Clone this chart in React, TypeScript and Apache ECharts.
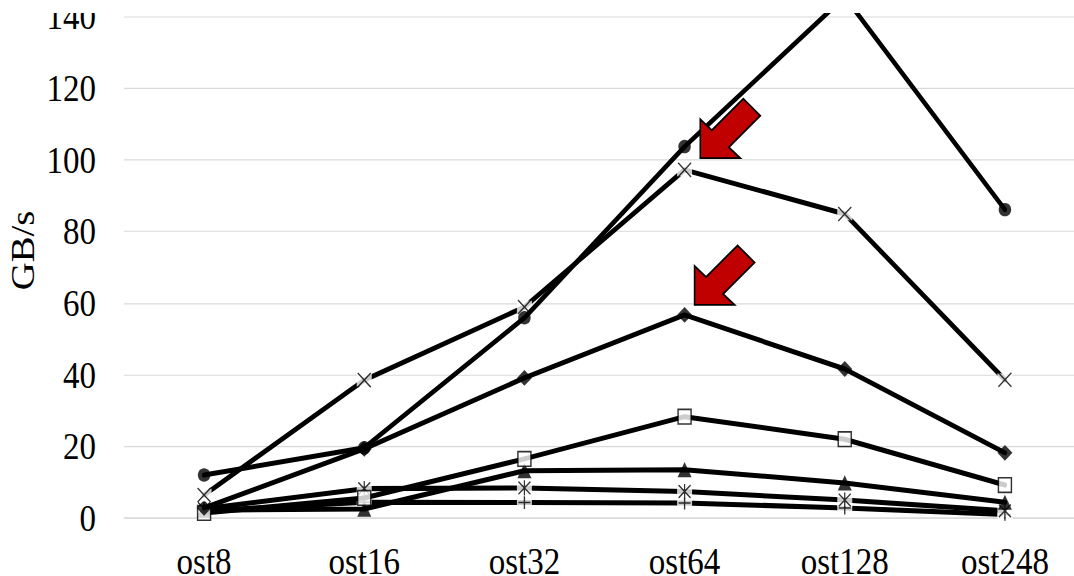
import { useEffect, useRef } from 'react';
import * as echarts from 'echarts';

// Stripe-count sweep: aggregate bandwidth per OST configuration
const categories = ['ost8', 'ost16', 'ost32', 'ost64', 'ost128', 'ost248'];

const plusValues = [2.0, 4.4, 4.3, 4.2, 2.8, 1.0];
const starValues = [2.6, 8.2, 8.4, 7.4, 5.0, 2.0];
const triangleValues = [2.2, 2.5, 13.2, 13.5, 9.8, 4.4];
const squareValues = [1.4, 5.6, 16.5, 28.3, 22.0, 9.2];
const diamondValues = [2.8, 19.3, 39.1, 56.7, 41.6, 18.2];
const crossValues = [6.4, 38.5, 58.9, 97.2, 84.9, 38.6];
const circleValues = [12.0, 19.6, 55.9, 103.7, 145.5, 86.1];

const yMin = 0;
const yMax = 141;
const yStep = 20;
const yTitle = 'GB/s';

// Highlighted points (category index, series values)
const highlightA = { index: 3, values: crossValues };
const highlightB = { index: 3, values: diamondValues };

const W = 1074;
const H = 492;
const S = 576 / H; // vertical stretch of the whole figure
const TOP_MARGIN = 13; // blank band above the figure, screen px

const FONT = '"Liberation Serif", "Times New Roman", serif';

const X_PATH = 'path://M0,0L10,10M10,0L0,10';
const STAR_PATH = 'path://M0,1L10,11M10,1L0,11M5,0L5,12';
const PLUS_PATH = 'path://M0,5L10,5M5,0L5,10';

type Def = {
  values: number[];
  symbol: string;
  size: number | number[];
  glyph: boolean;
  fill: string;
};

const defs: Def[] = [
  { values: plusValues, symbol: PLUS_PATH, size: [12, 11], glyph: true, fill: '#000' },
  { values: starValues, symbol: STAR_PATH, size: [12, 13], glyph: true, fill: '#000' },
  { values: triangleValues, symbol: 'triangle', size: [14, 13], glyph: false, fill: '#000' },
  { values: squareValues, symbol: 'rect', size: [13, 12.5], glyph: false, fill: '#fff' },
  { values: diamondValues, symbol: 'diamond', size: [15, 13.5], glyph: false, fill: '#000' },
  { values: crossValues, symbol: X_PATH, size: [13, 12], glyph: true, fill: '#000' },
  { values: circleValues, symbol: 'circle', size: [12.5, 11.5], glyph: false, fill: '#000' },
];

// Block arrow outline relative to its tip (screen units, pointing down-left)
const arrowShape = [
  [0, 0], [0, -39], [11.5, -28], [43, -59.5], [60, -42.5], [28.5, -11], [40, 0],
];

function buildSeries() {
  const out: any[] = [];
  defs.forEach((d, i) => {
    const z = 2 + i * 3;
    out.push({
      type: 'line',
      data: d.values,
      symbol: 'none',
      silent: true,
      z,
      lineStyle: { color: '#000', width: 4.3, cap: 'round', join: 'round' },
    });
    if (d.glyph) {
      out.push({
        type: 'scatter',
        data: d.values,
        symbol: 'rect',
        symbolSize: [15, 11],
        silent: true,
        z: z + 1,
        itemStyle: { color: '#fff' },
      });
      out.push({
        type: 'scatter',
        data: d.values,
        symbol: d.symbol,
        symbolSize: d.size,
        silent: true,
        z: z + 2,
        itemStyle: { color: 'transparent', borderColor: '#000', borderWidth: 1.3 },
      });
    } else {
      out.push({
        type: 'scatter',
        data: d.values,
        symbol: d.symbol,
        symbolSize: d.size,
        silent: true,
        z: z + 2,
        itemStyle: {
          color: d.fill,
          borderColor: '#000',
          borderWidth: d.fill === '#fff' ? 1.4 : 0,
        },
      });
    }
  });
  return out;
}

export default function App() {
  const ref = useRef<HTMLDivElement>(null);

  useEffect(() => {
    if (!ref.current) return;
    const chart = echarts.init(ref.current, undefined, { renderer: 'svg' });
    chart.setOption({
      animation: false,
      backgroundColor: '#fff',
      grid: {
        left: 124,
        right: -11,
        top: TOP_MARGIN / S,
        bottom: H - 518 / S,
        containLabel: false,
        outerBoundsMode: 'none',
      },
      xAxis: {
        type: 'category',
        data: categories,
        boundaryGap: true,
        axisLine: { show: true, lineStyle: { color: '#d9d9d9', width: 1 } },
        axisTick: { show: false },
        axisLabel: {
          interval: 0,
          margin: 20,
          fontSize: 33,
          fontFamily: FONT,
          color: '#000',
        },
        splitLine: { show: false },
      },
      yAxis: {
        type: 'value',
        min: yMin,
        max: yMax,
        interval: yStep,
        axisLine: { show: false },
        axisTick: { show: false },
        axisLabel: {
          margin: 28,
          fontSize: 33,
          fontFamily: FONT,
          color: '#000',
          showMaxLabel: false,
        },
        splitLine: {
          show: true,
          showMaxLine: false,
          lineStyle: { color: '#d9d9d9', width: 1 },
        },
      },
      series: buildSeries(),
    });

    const arrowAt = (idx: number, value: number, dx: number, dy: number) => {
      const p = chart.convertToPixel({ gridIndex: 0 }, [idx, value]) as number[];
      const tx = p[0] + dx;
      const ty = p[1] + dy / S;
      return {
        type: 'polygon',
        z: 200,
        silent: true,
        shape: { points: arrowShape.map(([ax, ay]) => [tx + ax, ty + ay / S]) },
        style: { fill: '#C00000', stroke: '#000', lineWidth: 1.6 },
      };
    };

    chart.setOption({
      graphic: [
        arrowAt(highlightA.index, highlightA.values[highlightA.index], 15.7, -11.7),
        arrowAt(highlightB.index, highlightB.values[highlightB.index], 10, -10),
        {
          type: 'text',
          x: 22.5,
          y: 250.5 / S,
          rotation: Math.PI / 2,
          silent: true,
          style: {
            text: yTitle,
            fill: '#000',
            font: `33px ${FONT}`,
            align: 'center',
            verticalAlign: 'middle',
            textAlign: 'center',
            textVerticalAlign: 'middle',
          },
        },
        // blank band along the top edge of the figure
        {
          type: 'rect',
          z: 300,
          silent: true,
          shape: { x: 0, y: -2, width: W, height: TOP_MARGIN / S + 2 },
          style: { fill: '#fff' },
        },
      ],
    });

    return () => chart.dispose();
  }, []);

  return (
    <div
      ref={ref}
      style={{
        position: 'absolute',
        left: 0,
        top: 0,
        width: W,
        height: H,
        transform: `scaleY(${S})`,
        transformOrigin: '0 0',
      }}
    />
  );
}
